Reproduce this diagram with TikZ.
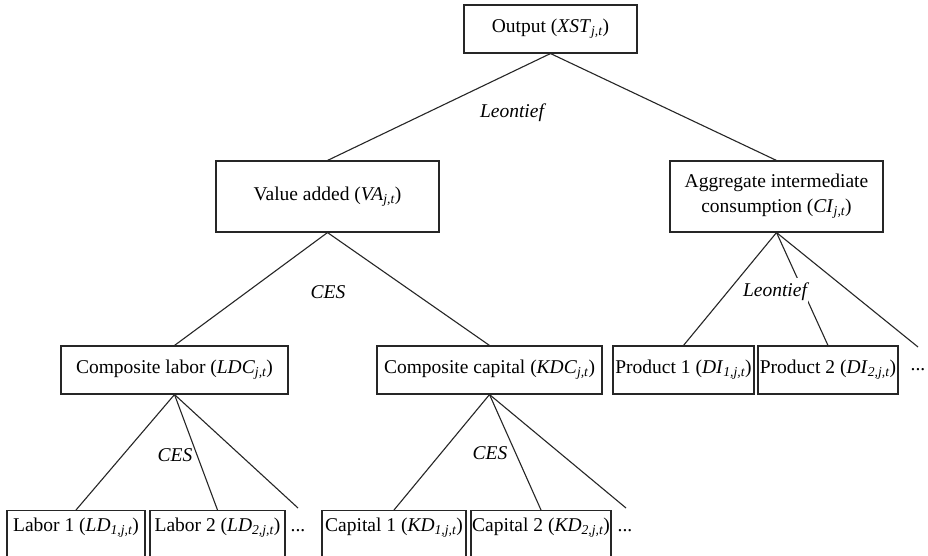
\documentclass[tikz,border=0pt]{standalone}
\usepackage{fontspec}
\setmainfont{Liberation Serif}
\newcommand{\mysub}[1]{\textsubscript{\itshape #1}}
\begin{document}
\begin{tikzpicture}[x=1pt,y=-1pt,
  font=\fontsize{19.5}{25}\selectfont,
  box/.style={draw=black!85, line width=1.1pt, inner sep=0pt, align=center},
  conn/.style={draw=black!85, line width=1.1pt},
  lab/.style={font=\fontsize{19.5}{25}\selectfont\itshape, inner sep=1pt},
  bot/.style={box, anchor=north, text height=20.5pt, text depth=45pt}]
\useasboundingbox (0,0) rectangle (928,556);
\clip (0,0) rectangle (928,556);
\fill[white] (0,0) rectangle (928,556);
% boxes
\node[box, minimum width=173, minimum height=48] (out) at (550.5,29) {Output (\textit{XST}\mysub{j,t})};
\node[box, minimum width=223, minimum height=71] (va) at (327.5,196.5) {Value added (\textit{VA}\mysub{j,t})};
\node[box, minimum width=213, minimum height=71] (ci) at (776.5,196.5) {Aggregate intermediate\\consumption (\textit{CI}\mysub{j,t})};
\node[box, minimum width=227, minimum height=48] (ldc) at (174.5,370) {Composite labor (\textit{LDC}\mysub{j,t})};
\node[box, minimum width=225, minimum height=48] (kdc) at (489.5,370) {Composite capital (\textit{KDC}\mysub{j,t})};
\node[box, minimum width=141, minimum height=48] (p1) at (683.5,370) {Product 1 (\textit{DI}\mysub{1,j,t})};
\node[box, minimum width=140, minimum height=48] (p2) at (828,370) {Product 2 (\textit{DI}\mysub{2,j,t})};
\node[bot, minimum width=138] (l1) at (76,510) {Labor 1 (\textit{LD}\mysub{1,j,t})};
\node[bot, minimum width=135] (l2) at (217.5,510) {Labor 2 (\textit{LD}\mysub{2,j,t})};
\node[bot, minimum width=144] (c1) at (394,510) {Capital 1 (\textit{KD}\mysub{1,j,t})};
\node[bot, minimum width=140] (c2) at (541,510) {Capital 2 (\textit{KD}\mysub{2,j,t})};
% ellipses
\node[inner sep=0pt] (ldots) at (298,531) {...};
\node[inner sep=0pt] (kdots) at (625,531) {...};
\node[inner sep=0pt] (pdots) at (918,370) {...};
% free ends
\coordinate (le) at (298,508);
\coordinate (ke) at (626,508);
\coordinate (pe) at (918,347);
% connectors
\draw[conn] (out.south) -- (va.north);
\draw[conn] (out.south) -- (ci.north);
\draw[conn] (va.south) -- (ldc.north);
\draw[conn] (va.south) -- (kdc.north);
\draw[conn] (ldc.south) -- (l1.north);
\draw[conn] (ldc.south) -- (l2.north);
\draw[conn] (ldc.south) -- (le);
\draw[conn] (kdc.south) -- (c1.north);
\draw[conn] (kdc.south) -- (c2.north);
\draw[conn] (kdc.south) -- (ke);
\draw[conn] (ci.south) -- (p1.north);
\draw[conn] (ci.south) -- (p2.north);
\draw[conn] (ci.south) -- (pe);
% function labels
\node[lab] (leo1) at (512,113) {Leontief};
\node[lab] (ces1) at (328,292) {CES};
\node[lab] (ces2) at (175,455) {CES};
\node[lab] (ces3) at (490,453) {CES};
\node[lab, fill=white, inner ysep=5pt] (leo2) at (775,292) {Leontief};
\end{tikzpicture}
\end{document}
